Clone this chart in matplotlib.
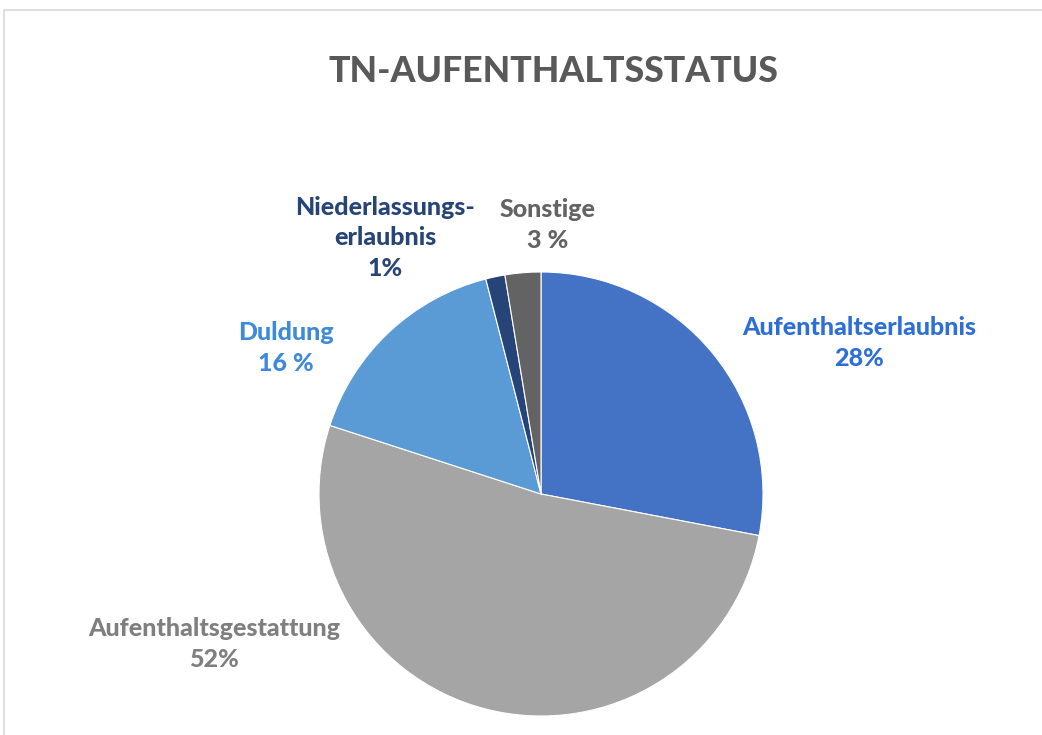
import matplotlib
matplotlib.use("Agg")
import matplotlib.pyplot as plt
from matplotlib.patches import Rectangle

# data
categories = ["Aufenthaltserlaubnis", "Aufenthaltsgestattung", "Duldung",
              "Niederlassungs-\nerlaubnis", "Sonstige"]
values = [28, 52, 16, 1.4, 2.6]
pct_labels = ["28%", "52%", "16 %", "1%", "3 %"]
slice_colors = ["#4472C4", "#A5A5A5", "#5B9BD5", "#264478", "#636363"]
label_colors = ["#2E6FD6", "#7F7F7F", "#3C8AD8", "#264478", "#636363"]
# label centres in pixels (x, y from top)
label_pos = [(859, 343), (214, 644), (286, 348), (385, 238), (548, 225)]

W, H = 1042, 735
fig = plt.figure(figsize=(W / 100, H / 100), dpi=100)
fig.patch.set_facecolor("white")

# chart frame
fig.add_artist(Rectangle((4 / W, -0.1), 1.2, (H - 10) / H + 0.1, transform=fig.transFigure,
                         fill=False, edgecolor="#D9D9D9", linewidth=1.2))

cx, cy, r = 541, 494, 222
ax = fig.add_axes([(cx - r) / W, (H - cy - r) / H, 2 * r / W, 2 * r / H])
ax.pie(values, colors=slice_colors, startangle=90, counterclock=False, radius=1,
       wedgeprops=dict(edgecolor="white", linewidth=0.8))
ax.set_xlim(-1, 1)
ax.set_ylim(-1, 1)
ax.set_aspect("equal")
ax.axis("off")

fig.text(553 / W, 1 - 72 / H, "TN-AUFENTHALTSSTATUS", ha="center", va="center",
         fontsize=25.7, fontweight="black", color="#595959", family="Lato")

for cat, pct, col, (px, py) in zip(categories, pct_labels, label_colors, label_pos):
    fig.text(px / W, 1 - py / H, cat + "\n" + pct, ha="center", va="center",
             fontsize=18, fontweight="black", color=col, family="Lato",
             linespacing=1.38)

fig.savefig("out.png", dpi=100)
